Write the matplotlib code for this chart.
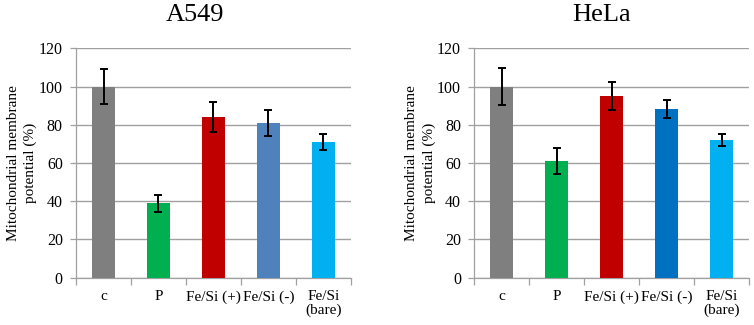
import matplotlib
matplotlib.use("Agg")
import matplotlib.pyplot as plt
import numpy as np

# ---------------------------------------------------------------------------
# Data
# ---------------------------------------------------------------------------
categories = ["c", "P", "Fe/Si (+)", "Fe/Si (-)", "Fe/Si\n(bare)"]

a549_values = [100, 39, 84, 81, 71]
a549_errors = [9, 4.5, 7.7, 6.7, 4.3]
a549_colors = ["#7f7f7f", "#00b050", "#c00000", "#4f81bd", "#00b0f0"]

hela_values = [100, 61, 95, 88, 72]
hela_errors = [9.7, 6.9, 7.2, 4.7, 3.2]
hela_colors = ["#7f7f7f", "#00b050", "#c00000", "#0070c0", "#00b0f0"]

y_ticks = [0, 20, 40, 60, 80, 100, 120]
y_label = "Mitochondrial membrane\npotential (%)"

plt.rcParams["font.family"] = ["Liberation Serif", "DejaVu Serif"]

GRID = "#a0a0a0"


def _panel(fig, rect, title, title_x, values, errors, colors):
    ax = fig.add_axes(rect)
    x = np.arange(len(categories))
    ax.bar(x, values, width=0.42, color=colors, zorder=3)
    ax.errorbar(x, values, yerr=errors, fmt="none", ecolor="black",
                elinewidth=1.4, capsize=3.2, capthick=1.4, zorder=4)

    ax.set_xlim(-0.5, len(categories) - 0.5)
    ax.set_ylim(0, 120)
    ax.set_yticks(y_ticks)
    ax.tick_params(axis="y", labelsize=11.5, length=4, color=GRID,
                   width=0.9, pad=5.5)
    ax.yaxis.grid(True, color=GRID, linewidth=1.0, zorder=0)
    ax.set_axisbelow(True)

    # category labels centred, tick marks on the boundaries
    ax.set_xticks(x)
    ax.set_xticklabels(categories, fontsize=11, linespacing=1.05)
    ax.tick_params(axis="x", length=0, pad=9)
    ax.set_xticks(np.arange(len(categories) + 1) - 0.5, minor=True)
    ax.tick_params(axis="x", which="minor", length=5, color=GRID, width=0.9)

    for side in ("top", "right"):
        ax.spines[side].set_visible(False)
    for side in ("left", "bottom"):
        ax.spines[side].set_color(GRID)
        ax.spines[side].set_linewidth(0.9)

    ax.set_ylabel(y_label, fontsize=11, linespacing=1.4, labelpad=1)
    fig.text(title_x, 0.955, title, ha="center", va="center", fontsize=19)
    return ax


fig = plt.figure(figsize=(7.54, 3.25), dpi=100)
_panel(fig, [0.1008, 0.1455, 0.3647, 0.706], "A549", 0.259,
       a549_values, a549_errors, a549_colors)
_panel(fig, [0.629, 0.1455, 0.3645, 0.706], "HeLa", 0.798,
       hela_values, hela_errors, hela_colors)

fig.savefig("out.png", dpi=100, facecolor="white")
